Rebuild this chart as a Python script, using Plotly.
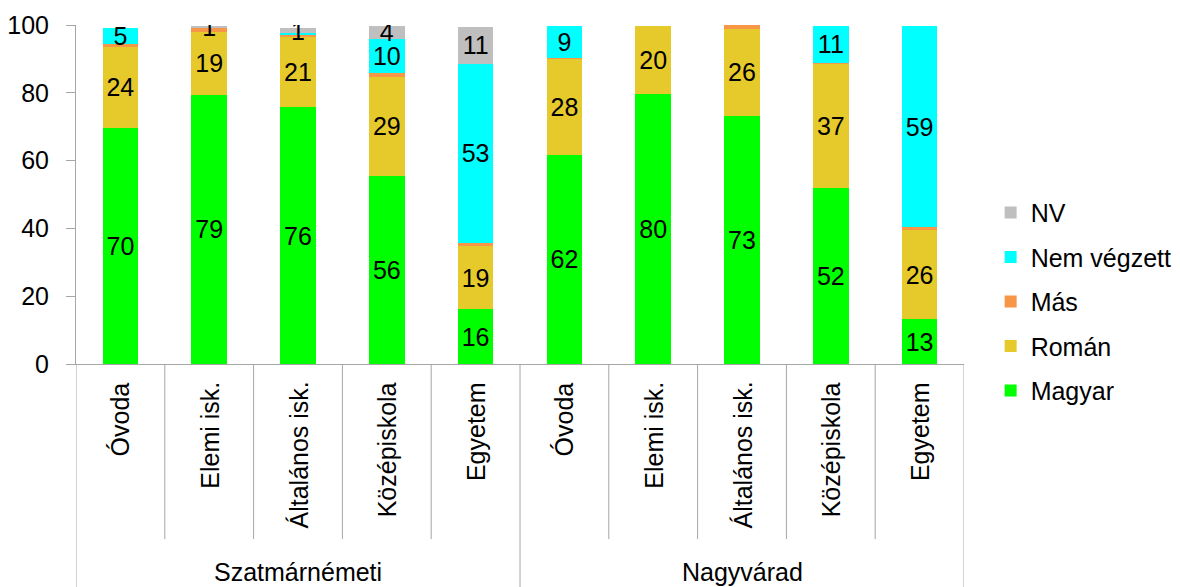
import plotly.graph_objects as go

groups = ["Szatmárnémeti", "Nagyvárad"]
categories = ["Óvoda", "Elemi isk.", "Általános isk.", "Középiskola", "Egyetem"]

# values per bar: Szatmárnémeti x5, Nagyvárad x5
magyar = [69.7, 79.4, 75.7, 55.6, 16.1, 61.8, 79.6, 73.3, 51.8, 13.2]
roman = [23.8, 18.6, 20.9, 29.1, 18.6, 28.2, 20.2, 25.6, 36.7, 26.3]
mas = [0.8, 1.0, 0.6, 1.2, 1.0, 0.4, 0.0, 1.0, 0.3, 0.8]
nem_vegzett = [4.9, 0.0, 0.4, 10.1, 52.9, 9.4, 0.0, 0.0, 11.0, 59.3]
nv = [0.0, 0.8, 1.4, 3.8, 10.9, 0.0, 0.0, 0.0, 0.0, 0.0]

y_ticks = [0, 20, 40, 60, 80, 100]

series = [
    ("Magyar", magyar, "#00FF00", True),
    ("Román", roman, "#E6C92B", True),
    ("Más", mas, "#F79646", False),
    ("Nem végzett", nem_vegzett, "#00FFFF", True),
    ("NV", nv, "#BFBFBF", True),
]

FONT = "Liberation Sans, Arial, sans-serif"
FS = 25
n = len(groups) * len(categories)
xs = list(range(n))

fig = go.Figure()
for k, (name, vals, color, labelled) in enumerate(series):
    text = [f"{v:.0f}" if (labelled and v >= 0.75) else "" for v in vals]
    fig.add_trace(go.Bar(
        x=xs, y=vals, name=name, legendgroup=name,
        legendrank=len(series) - k,
        marker=dict(color=color, line=dict(width=0)),
        text=text, textposition="inside", insidetextanchor="middle",
        textangle=0, textfont=dict(color="black", size=FS, family=FONT),
        hoverinfo="name+y",
    ))

# figure is placed at an 8px page margin
W, H = 1164, 579
ML, MT, MR, MB = 68, 17, 208, 223
H_PLOT = H - MT - MB

shapes = []
line_col = "#A6A6A6"
inner_bottom = -175 / H_PLOT
outer_bottom = -MB / H_PLOT
ncat = len(categories)
for i in range(n + 1):
    xb = i - 0.5
    is_outer = (i % ncat == 0)
    shapes.append(dict(type="line", xref="x", yref="paper", x0=xb, x1=xb,
                       y0=0, y1=outer_bottom if is_outer else inner_bottom,
                       line=dict(color=line_col, width=1)))

annotations = []
for g_i, g in enumerate(groups):
    for c_i, c in enumerate(categories):
        annotations.append(dict(x=g_i * ncat + c_i, y=0, xref="x", yref="paper",
                                text=c, textangle=-90, showarrow=False,
                                xanchor="center", yanchor="top", yshift=-16,
                                font=dict(size=FS, color="black", family=FONT)))
    annotations.append(dict(x=g_i * ncat + (ncat - 1) / 2, y=-208 / H_PLOT,
                            xref="x", yref="paper", text=g, showarrow=False,
                            xanchor="center", yanchor="middle",
                            font=dict(size=FS, color="black", family=FONT)))

fig.update_layout(
    width=W, height=H,
    margin=dict(l=ML, r=MR, t=MT, b=MB, autoexpand=False),
    paper_bgcolor="white", plot_bgcolor="white",
    barmode="stack", bargap=0.6,
    uniformtext=dict(minsize=FS, mode="show"),
    font=dict(family=FONT, size=FS, color="black"),
    xaxis=dict(range=[-0.5, n - 0.5], showticklabels=False, ticks="",
               showgrid=False, zeroline=False, showline=True,
               linecolor=line_col, linewidth=1, automargin=False),
    yaxis=dict(range=[0, 100], tickvals=y_ticks, showgrid=False, zeroline=False,
               showline=True, linecolor=line_col, linewidth=1,
               ticks="outside", ticklen=9, tickcolor=line_col,
               ticklabelstandoff=12, automargin=False,
               tickfont=dict(size=FS, color="black", family=FONT)),
    legend=dict(x=1.03, y=0.514, xanchor="left", yanchor="top",
                traceorder="grouped", tracegroupgap=9,
                font=dict(size=FS, color="black", family=FONT),
                itemwidth=30, bgcolor="rgba(0,0,0,0)"),
    shapes=shapes, annotations=annotations,
    showlegend=True,
)

fig.write_html("out.html")
